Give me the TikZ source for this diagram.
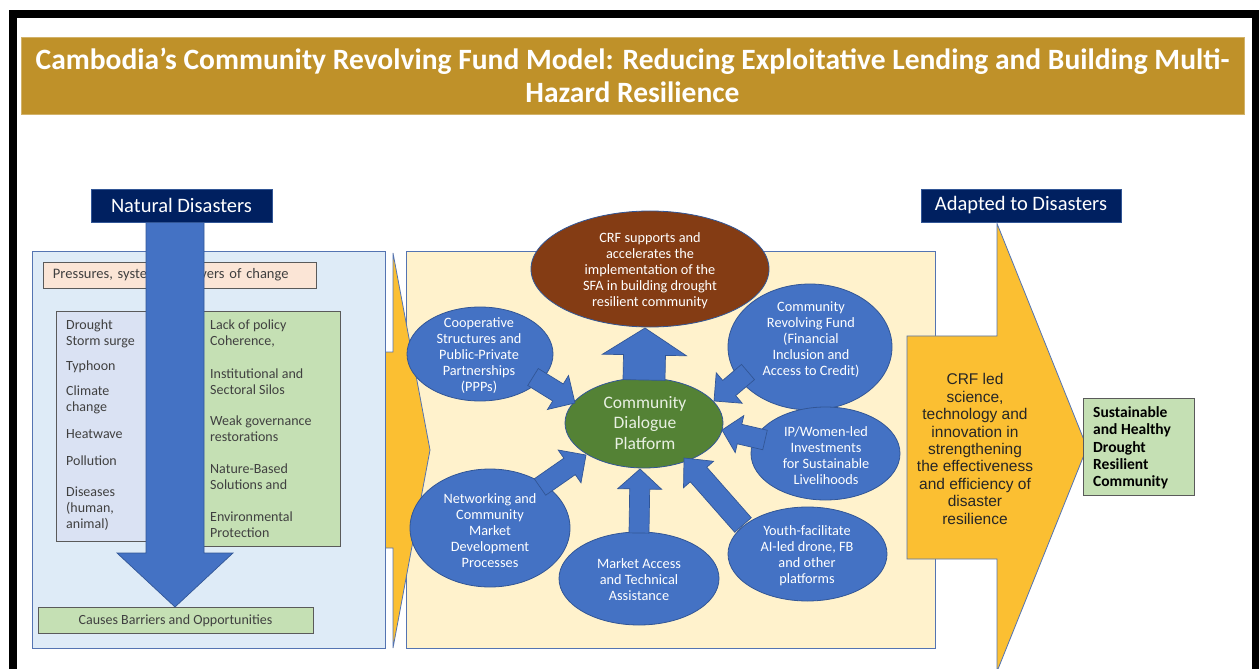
\documentclass[tikz,border=0pt]{standalone}
\usepackage{fontspec}
\setmainfont{Carlito}
\newfontfamily\arialfont{Liberation Sans}
\usetikzlibrary{shapes.geometric,calc}

\definecolor{titlegold}{RGB}{191,145,41}
\definecolor{navyhead}{RGB}{0,32,96}
\definecolor{paleblue}{RGB}{222,235,247}
\definecolor{panelline}{RGB}{84,116,178}
\definecolor{peach}{RGB}{251,229,214}
\definecolor{lavender}{RGB}{218,226,243}
\definecolor{leaf}{RGB}{197,224,180}
\definecolor{darkline}{RGB}{90,90,90}
\definecolor{midblue}{RGB}{68,114,196}
\definecolor{blueline}{RGB}{50,86,150}
\definecolor{cream}{RGB}{255,242,204}
\definecolor{amber}{RGB}{251,191,50}
\definecolor{rust}{RGB}{132,60,20}
\definecolor{moss}{RGB}{84,130,53}
\definecolor{inkgrey}{RGB}{64,64,64}
\definecolor{mosstext}{RGB}{232,240,226}

\newcommand\setfs[2]{\fontsize{#1bp}{#2bp}\selectfont}

% block arrow: [style] from, to, half shaft width, half head width, head length
\newcommand\blockarrow[6][blockarr]{%
  \coordinate (bah) at ($(#3)!#6!(#2)$);
  \filldraw[#1] ($(#2)!#4!90:(#3)$) -- ($(bah)!#4!90:(#3)$) -- ($(bah)!#5!90:(#3)$)
    -- (#3) -- ($(bah)!#5!-90:(#3)$) -- ($(bah)!#4!-90:(#3)$) -- ($(#2)!#4!-90:(#3)$) -- cycle;}

\tikzset{
  blockarr/.style={fill=midblue, draw=blueline, line width=0.7bp, line join=miter},
  bubble/.style={ellipse, fill=midblue, draw=blueline, line width=0.8bp, inner sep=0pt},
  bubbletext/.style={text=white, align=center, inner sep=0pt, font=\setfs{14.3}{16}},
  header/.style={fill=navyhead, draw=blueline, line width=0.6bp, text=white, inner sep=0pt, font=\setfs{20.5}{22}},
  panel/.style={draw=panelline, line width=1bp, inner sep=0pt},
  greybox/.style={draw=darkline, line width=0.9bp, inner sep=0pt},
  listtext/.style={anchor=west, align=left, inner sep=0pt, text=inkgrey, font=\setfs{14}{16}},
}

\begin{document}
\begin{tikzpicture}[x=1bp, y=-1bp]
\useasboundingbox (0,0) rectangle (1259,669);
\clip (0,0) rectangle (1259,669);

% outer frame
\draw[line width=8bp, line join=miter] (13,720) -- (13,14) -- (1256,14) -- (1256,720);

% title band
\node[fill=titlegold, draw=titlegold!70!white, line width=0.6bp, minimum width=1223bp, minimum height=77bp,
      inner sep=0pt, text=white, align=center, font=\bfseries\setfs{29.5}{33.5}] (title) at (632.5,75.5)
  {Cambodia’s Community Revolving Fund Model: Reducing Exploitative Lending and Building Multi-\\Hazard Resilience};

% ---------- left panel: pressures ----------
\node[panel, fill=paleblue, minimum width=352bp, minimum height=396bp] (leftpanel) at (209,450) {};
\node[greybox, fill=peach, minimum height=26bp, text width=253bp, inner xsep=10bp, align=left,
      text=inkgrey, font=\setfs{14.5}{16}] (pressures) at (179.5,275) {Pressures, systematic drivers of change};
\node[greybox, fill=lavender, minimum width=150bp, minimum height=230bp] (hazards) at (131,426) {};
\node[greybox, fill=leaf, minimum width=150bp, minimum height=235bp] (barriers) at (265,428.5) {};
\node[greybox, fill=leaf, minimum width=275bp, minimum height=26bp, text=inkgrey, font=\setfs{14}{16}]
  (causes) at (175.5,620.5) {Causes Barriers and Opportunities};

\node[listtext] (h1) at (66,334) {Drought\\Storm surge};
\node[listtext] (h2) at (66,367) {Typhoon};
\node[listtext] (h3) at (66,399.5) {Climate\\change};
\node[listtext] (h4) at (66,434) {Heatwave};
\node[listtext] (h5) at (66,461) {Pollution};
\node[listtext] (h6) at (66,509) {Diseases\\(human,\\animal)};

\node[listtext] (b1) at (210,334) {Lack of policy\\Coherence,};
\node[listtext] (b2) at (210,381.5) {Institutional and\\Sectoral Silos};
\node[listtext] (b3) at (210,429) {Weak governance\\restorations};
\node[listtext] (b4) at (210,477) {Nature-Based\\Solutions and};
\node[listtext] (b5) at (210,525) {Environmental\\Protection};

% the pressures arrow runs from the header down to the causes box
\node[header, minimum width=181bp, minimum height=33bp] (natdis) at (181.5,205.5) {Natural Disasters};
\coordinate (nd-s) at (175,222);
\coordinate (nd-e) at (175,607);
\blockarrow{nd-s}{nd-e}{29bp}{58bp}{54bp}
\node[header, minimum width=181bp, minimum height=33bp] at (natdis) {Natural Disasters};

% ---------- middle panel ----------
\node[panel, fill=cream, minimum width=529bp, minimum height=396bp] (midpanel) at (670.5,450) {};

% connecting chevron between the panels
\fill[amber] (386,352) -- (393,352) -- (393,253) -- (430,450) -- (393,648) -- (393,548) -- (386,548) -- cycle;
\draw[panelline, line width=0.8bp, line join=miter] (386,352) -- (393,352) -- (393,253) -- (430,450) -- (393,648) -- (393,548) -- (386,548);

% bubbles
\node[bubble, fill=rust, minimum width=238bp, minimum height=116bp] (sfa) at (650,269) {};
\node[bubble, minimum width=146bp, minimum height=94bp] (coop) at (480,354) {};
\node[bubble, minimum width=164bp, minimum height=126bp] (crf) at (810,347) {};
\node[bubble, fill=moss, minimum width=158bp, minimum height=90bp] (dialogue) at (644,423) {};
\node[bubble, minimum width=149bp, minimum height=93bp] (ipw) at (825.5,453.5) {};
\node[bubble, minimum width=159bp, minimum height=94bp] (youth) at (807.5,554) {};
\node[bubble, minimum width=160bp, minimum height=118bp] (network) at (490,528) {};
\node[bubble, minimum width=160bp, minimum height=93bp] (market) at (639,578.5) {};

% arrows feeding the dialogue platform
\coordinate (up-s) at (644,380);  \coordinate (up-e) at (645,328);
\coordinate (ma-s) at (639,533);  \coordinate (ma-e) at (640,469);
\coordinate (co-s) at (533,377);  \coordinate (co-e) at (575,403);
\coordinate (cr-s) at (748,372);  \coordinate (cr-e) at (714,401);
\coordinate (ip-s) at (765,440);  \coordinate (ip-e) at (722,430);
\coordinate (yo-s) at (743,525);  \coordinate (yo-e) at (684,458);
\coordinate (nw-s) at (540,487);  \coordinate (nw-e) at (586,455);
\blockarrow{up-s}{up-e}{21bp}{42bp}{27bp}
\blockarrow{ma-s}{ma-e}{10bp}{22bp}{20bp}
\blockarrow{co-s}{co-e}{10bp}{20bp}{20bp}
\blockarrow{cr-s}{cr-e}{10bp}{20bp}{20bp}
\blockarrow{ip-s}{ip-e}{10bp}{19bp}{18bp}
\blockarrow{yo-s}{yo-e}{11bp}{20bp}{22bp}
\blockarrow{nw-s}{nw-e}{10bp}{20bp}{20bp}

% bubble texts
\node[bubbletext] (sfa-t) at (650,271) {CRF supports and\\accelerates the\\implementation of the\\SFA in building drought\\resilient community};
\node[bubbletext] (coop-t) at (479,356) {Cooperative\\Structures and\\Public-Private\\Partnerships\\(PPPs)};
\node[bubbletext] (crf-t) at (811,340) {Community\\Revolving Fund\\(Financial\\Inclusion and\\Access to Credit)};
\node[bubbletext, text=mosstext, font=\setfs{17.5}{20.5}] (dialogue-t) at (645,423) {Community\\Dialogue\\Platform};
\node[bubbletext] (ipw-t) at (826,455.5) {IP/Women-led\\Investments\\for Sustainable\\Livelihoods};
\node[bubbletext] (youth-t) at (807,555.5) {Youth-facilitate\\AI-led drone, FB\\and other\\platforms};
\node[bubbletext] (network-t) at (490,531) {Networking and\\Community\\Market\\Development\\Processes};
\node[bubbletext] (market-t) at (639,580) {Market Access\\and Technical\\Assistance};

% ---------- right side ----------
\node[header, minimum width=200bp, minimum height=33bp] (adapted) at (1021,205.5) {Adapted to Disasters};
\coordinate (big-s) at (907,447.5);
\coordinate (big-e) at (1087,447.5);
\blockarrow[fill=amber, draw=panelline, line width=0.8bp, line join=miter]{big-s}{big-e}{111.5bp}{224bp}{90bp}
\node[align=center, inner sep=0pt, text=black!85, font=\arialfont\setfs{15.5}{17.4}] (stitext) at (975,449)
  {CRF led\\science,\\technology and\\innovation in\\strengthening\\the effectiveness\\and efficiency of\\disaster\\resilience};
\node[greybox, fill=leaf, minimum height=97bp, text width=91bp, inner xsep=10bp, align=left,
      font=\bfseries\setfs{15.5}{17.3}] (outcome) at (1138.5,446.5) {};
\node[anchor=west, align=left, inner sep=0pt, font=\bfseries\setfs{15.5}{17.3}] (outcome-t) at (1093,448)
  {Sustainable\\and Healthy\\Drought\\Resilient\\Community};
\end{tikzpicture}
\end{document}
